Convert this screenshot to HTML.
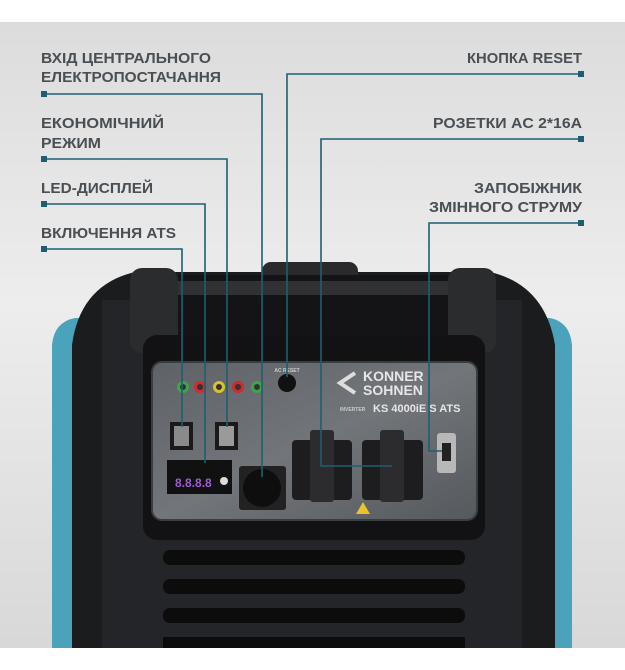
<!DOCTYPE html>
<html><head><meta charset="utf-8"><style>
html,body{margin:0;padding:0;background:#fff;}
svg{display:block}
text{font-family:"Liberation Sans","DejaVu Sans",sans-serif;font-weight:bold;}
</style></head><body>
<svg width="625" height="670" viewBox="0 0 625 670" xmlns="http://www.w3.org/2000/svg">
<defs>
<linearGradient id="bg" x1="0" y1="0" x2="0" y2="1">
<stop offset="0" stop-color="#dcdcdc"/><stop offset="0.45" stop-color="#ededed"/><stop offset="1" stop-color="#d8d8d8"/>
</linearGradient>
<linearGradient id="pn" x1="0" y1="0" x2="1" y2="1">
<stop offset="0" stop-color="#5e6266"/><stop offset="0.5" stop-color="#72767a"/><stop offset="1" stop-color="#55595d"/>
</linearGradient>
</defs>
<rect x="0" y="22" width="625" height="626" fill="url(#bg)"/>
<!-- body -->
<path d="M52 648 L52 345 Q54 322 75 318 L550 318 Q570 322 572 345 L572 648 Z" fill="#4aa3bb"/>
<path d="M72 648 L72 345 Q80 285 135 272 L490 272 Q545 285 555 345 L555 648 Z" fill="#1b1c1e"/>
<rect x="102" y="300" width="420" height="348" fill="#242528"/>
<!-- handle -->
<rect x="262" y="262" width="96" height="22" rx="9" fill="#2a2a2c"/>
<rect x="140" y="275" width="345" height="60" rx="6" fill="#141416"/>
<rect x="150" y="281" width="325" height="14" fill="#303134"/>
<rect x="130" y="268" width="48" height="85" rx="12" fill="#2b2c2e"/>
<rect x="448" y="268" width="48" height="85" rx="12" fill="#2b2c2e"/>
<!-- recess -->
<rect x="143" y="335" width="342" height="205" rx="14" fill="#121214"/>
<rect x="152" y="362" width="325" height="158" rx="10" fill="url(#pn)" stroke="#3a3d40" stroke-width="2"/>
<!-- leds -->
<g stroke-width="3" fill="#333">
<circle cx="183" cy="387" r="4.5" stroke="#3fa44a"/>
<circle cx="200" cy="387" r="4.5" stroke="#d02a2a"/>
<circle cx="219" cy="387" r="4.5" stroke="#d8c42a"/>
<circle cx="238" cy="387" r="4.5" stroke="#d02a2a"/>
<circle cx="257" cy="387" r="4.5" stroke="#3fa44a"/>
</g>
<circle cx="287" cy="383" r="9" fill="#111"/>
<text x="287" y="372" font-size="5" fill="#ccc" text-anchor="middle">AC RESET</text>
<!-- logo -->
<text x="363" y="381" font-size="14" fill="#e6e6e6" font-weight="normal">KONNER</text>
<text x="363" y="395" font-size="14" fill="#e6e6e6" font-weight="normal">SOHNEN</text>
<path d="M355 373 L340 383 L355 393" stroke="#ddd" stroke-width="4" fill="none"/>
<text x="340" y="411" font-size="5" fill="#ccc">INVERTER</text>
<text x="373" y="412" font-size="11" fill="#e6e6e6">KS 4000iE S ATS</text>
<!-- switches -->
<rect x="170" y="422" width="23" height="28" fill="#1a1a1a"/><rect x="174" y="426" width="15" height="20" fill="#8a8a8a"/>
<rect x="215" y="422" width="23" height="28" fill="#1a1a1a"/><rect x="219" y="426" width="15" height="20" fill="#9a9a9a"/>
<!-- display -->
<rect x="167" y="460" width="65" height="34" fill="#111"/>
<text x="175" y="487" font-size="12" fill="#a35ad8">8.8.8.8</text>
<circle cx="224" cy="481" r="4" fill="#ddd"/>
<!-- input -->
<rect x="239" y="466" width="47" height="44" rx="3" fill="#222"/>
<circle cx="262" cy="488" r="19" fill="#0e0e0e"/>
<!-- sockets -->
<rect x="292" y="440" width="60" height="60" rx="4" fill="#1d1d1f"/>
<rect x="310" y="430" width="24" height="72" rx="3" fill="#2c2c2e"/>
<rect x="362" y="440" width="61" height="60" rx="4" fill="#1d1d1f"/>
<rect x="380" y="430" width="24" height="72" rx="3" fill="#2c2c2e"/>
<!-- breaker -->
<rect x="437" y="433" width="19" height="40" rx="3" fill="#b8b8b8"/><rect x="442" y="443" width="9" height="18" fill="#222"/>
<polygon points="356,514 363,502 370,514" fill="#e8c42a"/>
<!-- vents -->
<g fill="#0c0c0d">
<rect x="163" y="550" width="302" height="15" rx="7"/>
<rect x="163" y="579" width="302" height="15" rx="7"/>
<rect x="163" y="608" width="302" height="15" rx="7"/>
<rect x="163" y="637" width="302" height="11"/>
</g>
<rect x="0" y="648" width="625" height="22" fill="#fff"/>
<!-- leader lines -->
<g stroke="#1d5f70" stroke-width="1.6" fill="none">
<polyline points="44,94 262,94 262,477"/>
<polyline points="44,159 227,159 227,427"/>
<polyline points="44,204 205,204 205,463"/>
<polyline points="44,249 182,249 182,427"/>
<polyline points="581,74 287,74 287,377"/>
<polyline points="581,139 321,139 321,466 392,466"/>
<polyline points="581,223 429,223 429,451 442,451"/>
</g>
<g fill="#1d5f70">
<rect x="41" y="91" width="6" height="6"/><rect x="41" y="156" width="6" height="6"/>
<rect x="41" y="201" width="6" height="6"/><rect x="41" y="246" width="6" height="6"/>
<rect x="578" y="71" width="6" height="6"/><rect x="578" y="136" width="6" height="6"/>
<rect x="578" y="220" width="6" height="6"/>
</g>
<!-- labels -->
<g font-size="15" fill="#4a4f53">
<text x="41" y="63" textLength="170" lengthAdjust="spacingAndGlyphs">ВХІД ЦЕНТРАЛЬНОГО</text>
<text x="41" y="82" textLength="180" lengthAdjust="spacingAndGlyphs">ЕЛЕКТРОПОСТАЧАННЯ</text>
<text x="41" y="128" textLength="123" lengthAdjust="spacingAndGlyphs">ЕКОНОМІЧНИЙ</text>
<text x="41" y="148" textLength="60" lengthAdjust="spacingAndGlyphs">РЕЖИМ</text>
<text x="41" y="193" textLength="112" lengthAdjust="spacingAndGlyphs">LED-ДИСПЛЕЙ</text>
<text x="41" y="238" textLength="135" lengthAdjust="spacingAndGlyphs">ВКЛЮЧЕННЯ ATS</text>
<text x="582" y="63" text-anchor="end" textLength="115" lengthAdjust="spacingAndGlyphs">КНОПКА RESET</text>
<text x="582" y="128" text-anchor="end" textLength="149" lengthAdjust="spacingAndGlyphs">РОЗЕТКИ AC 2*16A</text>
<text x="582" y="193" text-anchor="end" textLength="108" lengthAdjust="spacingAndGlyphs">ЗАПОБІЖНИК</text>
<text x="582" y="212" text-anchor="end" textLength="153" lengthAdjust="spacingAndGlyphs">ЗМІННОГО СТРУМУ</text>
</g>
</svg>
</body></html>
